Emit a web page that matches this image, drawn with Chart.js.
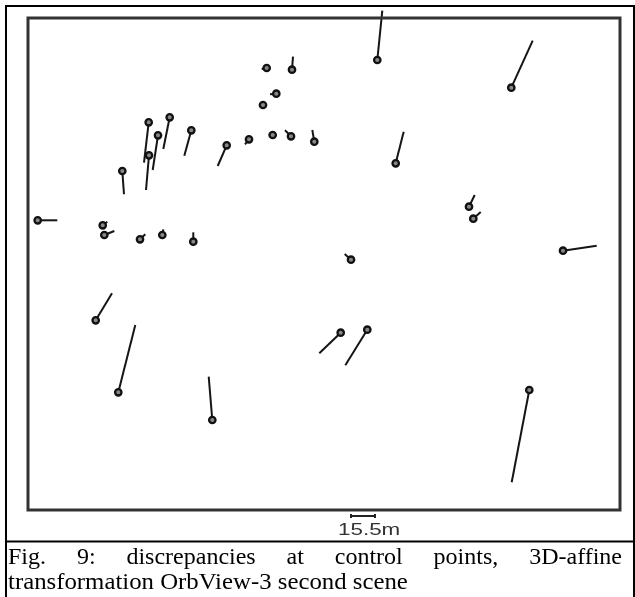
<!DOCTYPE html>
<html>
<head>
<meta charset="utf-8">
<script src="https://cdn.jsdelivr.net/npm/chart.js@4"></script>
<style>
  html, body { margin: 0; padding: 0; background: #fff; }
  #wrap { position: relative; width: 635px; height: 597px; overflow: hidden; }
  #c { position: absolute; left: 0; top: 0; }
  .cap { position: absolute; left: 8px; width: 614px; font-family: "Liberation Serif", "Times New Roman", serif;
         font-size: 24px; line-height: 25px; color: #000; white-space: nowrap; }
  #cap1 { top: 544px; text-align: justify; text-align-last: justify; white-space: normal; }
  #cap2 { top: 569px; transform: scaleX(1.033); transform-origin: 0 0; }
  #scaleLbl { position: absolute; left: 338px; top: 522px; font-family: "Liberation Sans", Arial, sans-serif;
              font-size: 16px; line-height: 16px; color: #333; transform: scaleX(1.4); transform-origin: 0 0; }
</style>
</head>
<body>
<div id="wrap">
  <canvas id="c" width="635" height="597"></canvas>
  <div id="scaleLbl">15.5m</div>
  <div class="cap" id="cap1">Fig. 9: discrepancies at control points, 3D-affine</div>
  <div class="cap" id="cap2">transformation OrbView-3 second scene</div>
</div>
<script>
// Control point positions (plot units, origin bottom-left)
const ptX = [349.3, 483.3, 238.7, 264.0, 248.3, 235.0, 120.7, 141.7, 130.0, 163.3, 198.7, 221.0, 244.7, 263.0, 286.3, 121.0, 94.3, 367.7, 441.0, 445.3, 9.7, 74.7, 76.3, 112.0, 134.3, 165.3, 535.0, 323.0, 67.7, 312.7, 339.3, 90.3, 184.3, 501.3];
const ptY = [450.0, 422.3, 442.0, 440.3, 416.3, 405.0, 387.7, 392.7, 374.7, 379.7, 364.7, 370.7, 375.0, 373.7, 368.3, 354.7, 339.0, 346.7, 303.3, 291.3, 289.7, 284.7, 275.0, 270.7, 275.0, 268.3, 259.3, 250.3, 189.7, 177.3, 180.3, 117.7, 90.0, 120.0];
// Discrepancy vector end points (same units, exaggerated)
const endX = [354.3, 504.7, 233.7, 265.0, 242.0, 231.0, 116.0, 135.3, 124.7, 156.3, 189.7, 217.0, 240.7, 257.0, 284.3, 118.0, 96.0, 375.7, 446.7, 452.7, 29.3, 79.3, 86.3, 117.3, 135.3, 165.3, 568.7, 316.7, 84.0, 291.3, 317.3, 107.3, 180.7, 483.7];
const endY = [499.3, 469.3, 441.0, 453.3, 415.7, 405.7, 347.3, 361.0, 340.0, 354.3, 344.0, 365.7, 375.7, 379.7, 380.0, 320.0, 315.7, 378.3, 315.0, 298.0, 289.7, 288.3, 279.0, 275.7, 280.7, 277.7, 264.3, 256.0, 216.7, 156.7, 144.7, 185.0, 133.3, 27.7];
// Plot extent and scale bar (plot units)
const xRange = [0, 592];
const yRange = [0, 492];
const scaleBarStart = 323;
const scaleBarLength = 24; // corresponds to 15.5 m

const datasets = ptX.map((x, i) => ({
  data: [{x: x, y: ptY[i]}, {x: endX[i], y: endY[i]}],
  showLine: true,
  borderColor: '#151515',
  borderWidth: 2,
  pointRadius: [3.2, 0],
  pointBorderWidth: 2.3,
  pointBorderColor: '#111',
  pointBackgroundColor: '#888',
  clip: false
}));

const framePlugin = {
  id: 'frame',
  afterDraw(chart) {
    const ctx = chart.ctx, a = chart.chartArea;
    ctx.save();
    // inner plot border
    ctx.strokeStyle = '#333';
    ctx.lineWidth = 3;
    ctx.strokeRect(a.left, a.top, a.right - a.left, a.bottom - a.top);
    // outer figure frame
    ctx.strokeStyle = '#000';
    ctx.lineWidth = 2;
    ctx.beginPath();
    ctx.moveTo(6, 597); ctx.lineTo(6, 6); ctx.lineTo(634, 6); ctx.lineTo(634, 597);
    ctx.moveTo(6, 541.5); ctx.lineTo(634, 541.5);
    ctx.stroke();
    // scale bar through x scale
    const xs = chart.scales.x;
    const x0 = xs.getPixelForValue(scaleBarStart);
    const x1 = xs.getPixelForValue(scaleBarStart + scaleBarLength);
    const yb = a.bottom + 6;
    ctx.strokeStyle = '#222';
    ctx.lineWidth = 2;
    ctx.beginPath();
    ctx.moveTo(x0, yb); ctx.lineTo(x1, yb);
    ctx.moveTo(x0, yb - 2); ctx.lineTo(x0, yb + 2);
    ctx.moveTo(x1, yb - 2); ctx.lineTo(x1, yb + 2);
    ctx.stroke();
    ctx.restore();
  }
};

new Chart(document.getElementById('c'), {
  type: 'scatter',
  data: { datasets },
  options: {
    responsive: false,
    animation: false,
    layout: { padding: { left: 28, top: 18, right: 15, bottom: 87 } },
    plugins: { legend: { display: false }, tooltip: { enabled: false } },
    scales: {
      x: { type: 'linear', min: xRange[0], max: xRange[1], display: false },
      y: { type: 'linear', min: yRange[0], max: yRange[1], display: false }
    }
  },
  plugins: [framePlugin]
});
</script>
</body>
</html>
